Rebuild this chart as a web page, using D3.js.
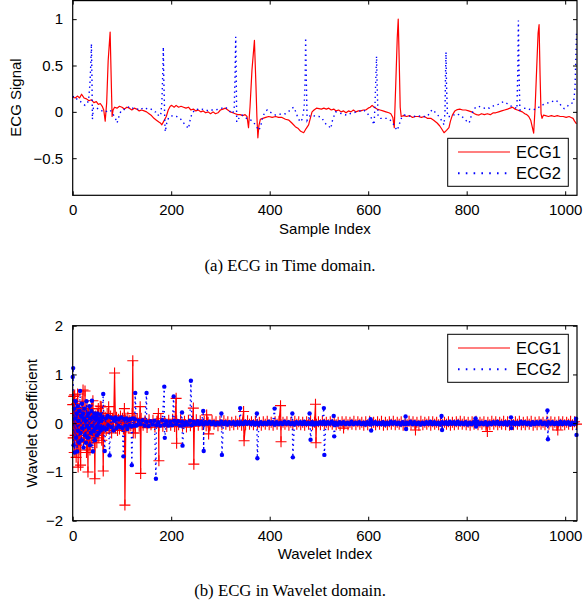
<!DOCTYPE html>
<html><head><meta charset="utf-8">
<script src="https://cdn.jsdelivr.net/npm/d3@7"></script>
<style>body{margin:0;background:#fff}</style>
</head><body>
<svg id="c" width="584" height="606"></svg>
<script>
// ---------- DATA ----------
const seriesNames = ["ECG1", "ECG2"];
const xTicks = [0, 200, 400, 600, 800, 1000];
const yTicksTime = [-0.5, 0, 0.5, 1];
const yTicksWavelet = [-2, -1, 0, 1, 2];

// (a) time domain: [sample index, value]
const ecg1Time = [
[0,0.16],[5,0.15],[10,0.17],[14,0.15],[18,0.19],[23,0.15],[28,0.14],[33,0.12],[38,0.13],[43,0.10],[48,0.11],[52,0.08],[56,0.09],[60,0.06],[63,0.02],[66,-0.10],[69,0.10],[72,0.55],[76,0.86],[78,0.40],[80,-0.05],[82,0.02],[85,0.05],[90,0.04],[95,0.06],[100,0.05],[105,0.03],[110,0.05],[115,0.04],[120,0.02],[125,0.04],[130,0.03],[135,0.01],[140,0.02],[145,0.01],[150,0.00],[155,-0.02],[160,-0.04],[165,-0.07],[170,-0.09],[175,-0.11],[178,-0.12],[181,-0.14],[185,-0.10],[190,-0.05],[194,0.02],[198,0.06],[201,0.07],[206,0.05],[210,0.07],[215,0.05],[220,0.06],[225,0.05],[230,0.04],[235,0.05],[240,0.02],[245,0.03],[250,0.01],[255,0.02],[260,0.00],[265,0.01],[270,-0.01],[275,0.00],[280,-0.02],[285,0.00],[290,-0.02],[295,-0.01],[300,0.02],[305,0.03],[310,0.04],[315,0.02],[320,0.00],[325,-0.01],[330,-0.02],[335,-0.03],[340,-0.03],[345,-0.04],[350,-0.03],[354,-0.05],[357,-0.17],[360,0.05],[364,0.45],[369,0.77],[372,0.30],[374,-0.05],[376,-0.28],[378,-0.15],[381,-0.08],[386,-0.07],[392,-0.06],[398,-0.05],[405,-0.06],[412,-0.05],[418,-0.06],[425,-0.06],[432,-0.08],[439,-0.09],[445,-0.12],[452,-0.16],[458,-0.18],[463,-0.21],[469,-0.225],[474,-0.18],[479,-0.14],[483,-0.06],[486,0.00],[490,0.02],[495,0.04],[500,0.035],[505,0.03],[510,0.04],[515,0.03],[520,0.04],[525,0.02],[530,0.03],[535,0.01],[540,0.02],[545,0.00],[550,0.01],[555,-0.01],[560,0.01],[565,0.00],[570,0.02],[575,0.00],[580,0.01],[585,0.01],[590,0.02],[595,0.02],[600,0.04],[604,0.05],[608,0.07],[612,0.05],[618,0.03],[624,0.02],[630,0.01],[636,0.00],[642,-0.01],[646,-0.02],[650,-0.06],[653,-0.17],[656,0.30],[659,0.80],[661,1.00],[663,0.55],[665,0.05],[667,-0.05],[672,-0.04],[678,-0.05],[684,-0.04],[690,-0.06],[696,-0.05],[702,-0.05],[708,-0.06],[714,-0.05],[720,-0.07],[727,-0.07],[733,-0.09],[740,-0.12],[745,-0.15],[750,-0.19],[754,-0.225],[759,-0.20],[764,-0.17],[767,-0.10],[771,-0.035],[776,0.01],[781,0.025],[786,0.03],[792,0.02],[798,0.02],[804,0.01],[810,0.00],[816,-0.02],[820,-0.03],[825,-0.035],[830,-0.02],[836,-0.03],[842,-0.02],[848,-0.03],[854,-0.01],[859,-0.01],[865,0.00],[871,0.01],[877,0.02],[883,0.03],[888,0.04],[893,0.05],[898,0.03],[903,0.02],[908,0.01],[913,0.00],[918,-0.02],[922,-0.03],[926,-0.05],[930,-0.09],[933,-0.16],[936,-0.23],[939,0.05],[942,0.45],[945,0.85],[947,0.94],[949,0.40],[951,-0.02],[953,-0.07],[956,-0.035],[960,-0.04],[966,-0.05],[972,-0.04],[978,-0.05],[984,-0.04],[990,-0.05],[996,-0.05],[1002,-0.06],[1008,-0.05],[1012,-0.06],[1016,-0.07],[1019,-0.10],[1023,-0.13]
];
const ecg2Time = [
[0,0.16],[4,0.17],[8,0.14],[12,0.12],[16,0.11],[20,0.09],[25,0.07],[29,0.09],[32,0.12],[35,0.30],[37,0.55],[38,0.735],[39,0.40],[40,-0.08],[42,0.04],[47,0.05],[52,0.03],[57,0.02],[62,0.00],[66,0.00],[71,0.01],[76,0.02],[81,-0.02],[86,-0.06],[90,-0.12],[94,-0.05],[98,0.01],[103,0.02],[108,0.04],[113,0.05],[117,0.06],[122,0.04],[127,0.03],[132,0.03],[137,0.02],[142,0.04],[147,0.03],[152,0.04],[157,0.035],[162,0.02],[167,0.00],[171,0.00],[175,-0.05],[179,-0.02],[181,0.10],[183,0.45],[184,0.70],[185,0.35],[187,-0.10],[188,-0.215],[191,-0.12],[195,-0.06],[198,-0.05],[204,-0.04],[211,-0.05],[218,-0.07],[224,-0.11],[228,-0.14],[232,-0.16],[235,-0.18],[238,-0.10],[242,-0.02],[245,0.00],[250,0.03],[255,0.025],[262,0.03],[270,0.02],[277,0.01],[283,0.02],[290,0.02],[296,0.03],[303,0.04],[310,0.05],[315,0.03],[320,0.00],[323,-0.02],[326,0.00],[328,0.05],[330,0.50],[331,0.81],[332,0.40],[333,-0.11],[336,-0.08],[340,-0.05],[344,-0.035],[350,-0.06],[356,-0.08],[362,-0.09],[367,-0.11],[372,-0.15],[378,-0.20],[382,-0.15],[386,-0.05],[391,0.00],[395,0.02],[400,0.00],[406,-0.02],[412,-0.035],[418,-0.03],[425,-0.02],[432,-0.02],[438,0.00],[443,0.03],[449,0.05],[453,0.00],[457,-0.06],[462,-0.11],[466,-0.08],[470,0.05],[472,0.40],[473,0.80],[474,0.45],[476,-0.09],[479,-0.06],[483,-0.035],[488,-0.04],[494,-0.05],[500,-0.05],[505,-0.06],[510,-0.10],[514,-0.13],[518,-0.14],[524,-0.18],[528,-0.08],[534,0.00],[540,-0.01],[546,-0.02],[552,-0.03],[557,-0.035],[563,-0.02],[570,-0.01],[577,0.00],[584,0.01],[591,0.02],[597,-0.01],[602,-0.04],[605,-0.05],[609,-0.10],[612,-0.14],[614,0.10],[616,0.45],[617,0.60],[618,0.30],[620,-0.05],[625,-0.07],[632,-0.07],[639,-0.07],[645,-0.09],[650,-0.12],[655,-0.17],[659,-0.20],[664,-0.12],[668,-0.06],[673,-0.035],[680,-0.04],[687,-0.05],[693,-0.05],[700,-0.04],[707,-0.05],[714,-0.05],[720,-0.05],[725,-0.01],[730,0.025],[735,0.00],[740,-0.025],[745,-0.06],[750,-0.10],[754,-0.14],[756,0.00],[757,0.40],[758,0.645],[759,0.30],[761,-0.05],[766,-0.05],[772,-0.04],[778,-0.02],[784,-0.03],[790,-0.05],[795,-0.07],[800,-0.10],[805,-0.12],[809,-0.05],[813,0.01],[818,0.05],[824,0.06],[830,0.05],[836,0.04],[841,0.05],[846,0.04],[852,0.06],[858,0.07],[864,0.08],[870,0.10],[876,0.11],[882,0.09],[887,0.07],[893,0.055],[898,0.05],[902,0.03],[904,0.50],[905,0.985],[906,0.50],[908,0.02],[913,0.035],[920,0.04],[926,0.03],[932,0.02],[937,0.025],[943,0.04],[950,0.06],[956,0.08],[961,0.09],[967,0.10],[973,0.11],[981,0.125],[987,0.10],[993,0.06],[998,0.035],[1003,0.05],[1008,0.08],[1012,0.09],[1017,0.10],[1020,0.25],[1023,0.86]
];

// (b) wavelet domain: large coefficients as [index, value]
const ecg1WaveletPeaks = [
[0,0.38],[1,-0.30],[2,0.55],[3,-0.60],[4,0.58],[5,-0.25],[6,0.20],[7,-0.70],[8,0.40],[9,-0.45],[10,0.60],[11,-0.90],[12,0.25],[13,-0.35],[14,0.30],[15,-0.55],[16,-0.86],[17,0.15],[18,-0.20],[19,0.45],[20,-0.10],[21,0.68],[22,-0.40],[23,0.20],[24,-0.30],[25,0.66],[26,-0.15],[27,0.10],[28,-0.60],[29,0.30],[30,-0.25],[31,-1.00],[32,0.25],[33,-0.35],[34,0.05],[35,-0.55],[36,0.20],[37,-0.15],[38,0.30],[39,-0.40],[40,0.10],[41,0.46],[42,-0.30],[43,0.12],[44,-0.20],[45,-1.14],[46,0.15],[47,-0.25],[48,0.05],[49,-0.40],[50,0.20],[51,-0.10],[52,0.30],[53,-0.30],[54,0.10],[55,-0.15],[56,0.35],[57,-0.05],[58,0.34],[59,-0.35],[60,0.10],[61,-0.20],[62,-0.98],[63,0.15],[64,-0.10],[66,0.12],[68,-0.15],[70,0.20],[72,-0.10],[73,0.34],[75,-0.12],[77,0.15],[79,-0.20],[81,0.10],[83,-0.08],[85,1.03],[87,-0.10],[89,0.12],[91,-0.15],[93,0.08],[95,-0.12],[97,0.15],[99,-0.06],[101,0.10],[103,-0.12],[105,0.30],[106,-1.68],[108,0.10],[110,-0.08],[112,0.12],[114,-0.10],[116,0.06],[118,-0.05],[121,0.20],[122,1.28],[123,-0.20],[125,0.08],[127,-0.20],[128,0.06],
[137,0.34],[138,-1.03],[174,0.20],[175,-0.77],[210,0.51],[211,-0.41],[245,0.31],[246,-0.84],[272,0.17],[276,-0.22],[347,0.24],[348,-0.36],[422,0.36],[423,-0.38],[493,0.39],[494,-0.40],[550,-0.10],[696,-0.14],[842,-0.17],[985,-0.14]
];
// small coefficients from index 131, every 4th index
const ecg1WaveletBandStart = 131;
const ecg1WaveletBand = [
0.08,-0.06,0.10,-0.04,0.05,-0.09,0.07,-0.03,0.06,-0.08,0.04,-0.05,0.09,-0.06,0.03,-0.07,
0.06,-0.04,0.08,-0.07,0.05,-0.03,0.07,-0.06,0.04,-0.08,0.06,-0.05,0.03,-0.06,0.07,-0.04,
0.05,-0.03,0.04,-0.05,0.02,-0.04,0.05,-0.02,0.03,-0.05,0.04,-0.03,0.05,-0.02,0.03,-0.04,
0.02,-0.03,0.04,-0.02,0.03,-0.04,0.02,-0.03,0.05,-0.02,0.03,-0.03,0.04,-0.02,0.02,-0.04,
0.03,-0.02,0.04,-0.03,0.02,-0.04,0.03,-0.02,0.04,-0.03,0.02,-0.02,0.03,-0.04,0.02,-0.03,
0.04,-0.02,0.03,-0.03,0.02,-0.04,0.03,-0.02,0.05,-0.03,0.02,-0.02,0.03,-0.03,0.04,-0.02,
0.02,-0.03,0.03,-0.02,0.04,-0.03,0.02,-0.04,0.03,-0.02,0.03,-0.03,0.02,-0.02,0.04,-0.03,
0.03,-0.02,0.02,-0.04,0.03,-0.03,0.04,-0.02,0.02,-0.03,0.03,-0.02,0.04,-0.04,0.02,-0.03,
0.03,-0.02,0.04,-0.03,0.02,-0.02,0.03,-0.04,0.02,-0.03,0.04,-0.02,0.03,-0.03,0.02,-0.04,
0.04,-0.03,0.02,-0.02,0.03,-0.04,0.03,-0.02,0.02,-0.03,0.04,-0.03,0.02,-0.02,0.03,-0.04,
0.02,-0.03,0.03,-0.02,0.04,-0.02,0.03,-0.03,0.02,-0.04,0.03,-0.02,0.04,-0.03,0.02,-0.02,
0.03,-0.04,0.02,-0.03,0.04,-0.02,0.03,-0.03,0.02,-0.02,0.04,-0.03,0.03,-0.04,0.02,-0.03,
0.03,-0.02,0.04,-0.03,0.02,-0.03,0.03,-0.02,0.04,-0.04,0.02,-0.03,0.03,-0.02,0.02,-0.03,
0.04,-0.02,0.03,-0.03,0.02,-0.04,0.03,-0.02,0.03,-0.03,0.02,-0.02,0.04,-0.03,0.03,-0.02
];
const ecg2WaveletPeaks = [
[0,0.95],[1,1.13],[2,-0.45],[3,0.30],[4,-0.60],[5,0.10],[6,0.45],[7,-0.30],[8,0.20],[9,-0.58],[10,0.35],[11,-0.15],[12,0.05],[13,-0.40],[14,0.25],[15,0.66],[16,-0.20],[17,0.15],[18,-0.35],[19,0.40],[20,-0.10],[21,0.20],[22,-0.50],[23,0.10],[24,0.30],[25,-0.25],[26,0.05],[27,-0.40],[28,0.45],[29,-0.05],[30,0.15],[31,-0.30],[32,0.20],[33,-0.10],[34,0.35],[35,-0.45],[36,0.10],[37,-0.20],[38,0.25],[39,0.46],[40,-0.05],[41,-0.58],[42,0.12],[43,-0.15],[44,0.20],[45,-0.35],[46,0.08],[47,-0.10],[48,0.15],[49,-0.25],[50,0.20],[51,-0.05],[52,0.10],[53,-0.20],[54,0.05],[55,-0.10],[56,0.18],[57,-0.15],[58,0.05],[59,-0.08],[60,0.12],[62,0.60],[63,-0.10],[65,-0.57],[67,0.10],[69,-0.12],[71,0.15],[73,-0.05],[75,-0.66],[77,0.12],[79,-0.08],[81,0.10],[83,-0.15],[85,0.05],[87,0.12],[89,-0.10],[91,0.08],[93,-0.05],[95,0.10],[97,-0.08],[99,0.12],[101,-0.10],[103,-0.68],[105,0.08],[107,-0.05],[109,0.10],[111,-0.12],[113,0.06],[115,-0.04],[117,0.08],[119,-0.06],[120,-0.86],[122,0.10],[124,-0.05],[126,0.08],[127,0.62],[129,-0.05],
[150,0.62],[169,-1.14],[186,0.75],[187,-0.30],[205,0.55],[222,0.22],[223,-0.46],[240,0.87],[265,0.25],[266,-0.57],[302,0.20],[303,-0.65],[340,0.31],[374,0.20],[375,-0.72],[410,0.30],[446,0.20],[447,-0.70],[481,0.20],[483,-0.34],[510,0.31],[511,-0.65],[530,0.15],[531,-0.27],[605,0.08],[606,-0.15],[676,0.14],[677,-0.12],[749,0.15],[750,-0.14],[818,0.10],[819,-0.07],[890,0.12],[891,-0.10],[964,0.26],[965,-0.33],[1022,0.09],[1023,-0.24]
];
const ecg2WaveletBandStart = 130;
const ecg2WaveletBand = [
-0.04,0.05,-0.02,0.06,-0.05,0.03,-0.06,0.04,-0.03,0.05,-0.04,0.02,-0.05,0.06,-0.03,0.04,
-0.05,0.03,-0.04,0.05,-0.02,0.04,-0.05,0.03,-0.04,0.02,-0.03,0.05,-0.04,0.03,-0.02,0.04,
-0.02,0.03,-0.03,0.02,-0.01,0.03,-0.02,0.02,-0.03,0.01,-0.02,0.03,-0.02,0.02,-0.03,0.02,
-0.01,0.02,-0.03,0.02,-0.02,0.01,-0.02,0.03,-0.01,0.02,-0.02,0.02,-0.03,0.01,-0.02,0.02,
-0.02,0.01,-0.02,0.03,-0.01,0.02,-0.03,0.02,-0.02,0.01,-0.02,0.03,-0.01,0.02,-0.02,0.01,
-0.03,0.02,-0.01,0.02,-0.02,0.03,-0.02,0.01,-0.02,0.02,-0.03,0.01,-0.02,0.02,-0.01,0.03,
-0.02,0.02,-0.01,0.03,-0.02,0.01,-0.03,0.02,-0.01,0.02,-0.02,0.01,-0.02,0.03,-0.02,0.01,
-0.01,0.02,-0.02,0.01,-0.03,0.02,-0.02,0.03,-0.01,0.02,-0.02,0.01,-0.02,0.02,-0.03,0.01,
-0.02,0.03,-0.01,0.02,-0.02,0.01,-0.03,0.02,-0.02,0.01,-0.01,0.03,-0.02,0.02,-0.02,0.01,
-0.03,0.01,-0.02,0.02,-0.01,0.03,-0.02,0.02,-0.02,0.01,-0.03,0.02,-0.01,0.02,-0.02,0.03,
-0.01,0.02,-0.02,0.03,-0.02,0.01,-0.02,0.02,-0.03,0.01,-0.02,0.02,-0.01,0.03,-0.02,0.01,
-0.02,0.02,-0.03,0.01,-0.02,0.02,-0.01,0.03,-0.02,0.01,-0.02,0.02,-0.03,0.02,-0.01,0.02,
-0.02,0.01,-0.02,0.03,-0.01,0.02,-0.02,0.01,-0.03,0.02,-0.02,0.02,-0.01,0.03,-0.02,0.01,
-0.03,0.02,-0.01,0.02,-0.02,0.01,-0.02,0.03,-0.02,0.02,-0.01,0.02,-0.03,0.01,-0.02,0.02
];

// ---------- DRAW ----------
const RED = "#ff0000", BLUE = "#0000ff";
const SANS = "'Liberation Sans', Arial, Helvetica, sans-serif";
const SERIF = "'Liberation Serif', 'Times New Roman', serif";
const svg = d3.select("#c");
const L = 72.7, R = 577;
const x = d3.scaleLinear().domain([0, 1024]).range([L, R]);
const fmt = d => (d < 0 ? "\u2212" : "") + Math.abs(d);

function merge(peaks, start, band) {
  const pts = peaks.map(p => ({i: p[0], v: p[1]}));
  band.forEach((v, k) => pts.push({i: start + 4 * k, v}));
  return pts.sort((a, b) => a.i - b.i);
}

function frame(y, top, bottom, yTicks) {
  const g = svg.append("g");
  g.append("g").attr("transform", `translate(0,${bottom})`)
    .call(d3.axisBottom(x).tickValues(xTicks).tickSize(-4).tickPadding(9.5).tickFormat(fmt));
  g.append("g").attr("transform", `translate(0,${top})`)
    .call(d3.axisTop(x).tickValues(xTicks).tickSize(-4).tickFormat(""));
  g.append("g").attr("transform", `translate(${L},0)`)
    .call(d3.axisLeft(y).tickValues(yTicks).tickSize(-4).tickPadding(9.5).tickFormat(fmt));
  g.append("g").attr("transform", `translate(${R},0)`)
    .call(d3.axisRight(y).tickValues(yTicks).tickSize(-4).tickFormat(""));
  g.selectAll(".domain").remove();
  g.selectAll(".tick line").attr("stroke", "#000").attr("stroke-width", 1);
  g.selectAll("text").attr("font-family", SANS).attr("font-size", 15).attr("fill", "#000");
  g.append("rect").attr("x", L).attr("y", top).attr("width", R - L).attr("height", bottom - top)
    .attr("fill", "none").attr("stroke", "#000").attr("stroke-width", 1.2);
  return g;
}

function legend(top) {
  const g = svg.append("g");
  g.append("rect").attr("x", 447.7).attr("y", top).attr("width", 120.6).attr("height", 48)
    .attr("fill", "#fff").attr("stroke", "#000").attr("stroke-width", 1);
  const rows = [{c: RED, dash: null, w: 1.2}, {c: BLUE, dash: "1.6,6.2", w: 2}];
  seriesNames.forEach((n, k) => {
    const yy = top + 13.7 + k * 21.3;
    g.append("line").attr("x1", 458).attr("x2", 510).attr("y1", yy).attr("y2", yy)
      .attr("stroke", rows[k].c).attr("stroke-width", rows[k].w)
      .attr("stroke-dasharray", rows[k].dash);
    g.append("text").attr("x", 516).attr("y", yy + 5.9).text(n)
      .attr("font-family", SANS).attr("font-size", 16.5).attr("fill", "#000");
  });
}

// ---- (a) ----
const yA = d3.scaleLinear().domain([-0.9, 1.2]).range([195.3, 0.6]);
const lineA = d3.line().x(d => x(d[0])).y(d => yA(d[1]));
svg.append("path").datum(ecg1Time).attr("d", lineA)
  .attr("fill", "none").attr("stroke", RED).attr("stroke-width", 1.2).attr("stroke-linejoin", "round");
svg.append("path").datum(ecg2Time).attr("d", lineA)
  .attr("fill", "none").attr("stroke", BLUE).attr("stroke-width", 1.4).attr("stroke-dasharray", "1.4,3.6");
frame(yA, 0.6, 195.3, yTicksTime);
legend(138.3);
svg.append("text").attr("x", 324.9).attr("y", 234).attr("text-anchor", "middle")
  .attr("font-family", SANS).attr("font-size", 15).text("Sample Index");
svg.append("text").attr("transform", "translate(21.3,97.5) rotate(-90)").attr("text-anchor", "middle")
  .attr("font-family", SANS).attr("font-size", 15).text("ECG Signal");
svg.append("text").attr("x", 290).attr("y", 271).attr("text-anchor", "middle")
  .attr("font-family", SERIF).attr("font-size", 16.8).text("(a) ECG in Time domain.");

// ---- (b) ----
const yB = d3.scaleLinear().domain([-2, 2]).range([520.7, 325.7]);
const w1 = merge(ecg1WaveletPeaks, ecg1WaveletBandStart, ecg1WaveletBand);
const w2 = merge(ecg2WaveletPeaks, ecg2WaveletBandStart, ecg2WaveletBand);
const lineB = d3.line().x(d => x(d.i)).y(d => yB(d.v));
svg.append("path").datum(w1).attr("d", lineB)
  .attr("fill", "none").attr("stroke", RED).attr("stroke-width", 1.2);
svg.append("g").selectAll("path").data(w1).join("path")
  .attr("transform", d => `translate(${x(d.i)},${yB(d.v)})`)
  .attr("d", "M-5.5,0H5.5M0,-5.5V5.5").attr("stroke", RED).attr("stroke-width", 1.1).attr("fill", "none");
svg.append("path").datum(w2).attr("d", lineB)
  .attr("fill", "none").attr("stroke", BLUE).attr("stroke-width", 1.4).attr("stroke-dasharray", "1.4,3.6");
svg.append("g").selectAll("circle").data(w2).join("circle")
  .attr("cx", d => x(d.i)).attr("cy", d => yB(d.v)).attr("r", 2.2).attr("fill", BLUE);
frame(yB, 325.7, 520.7, yTicksWavelet);
legend(334.3);
svg.append("text").attr("x", 324.9).attr("y", 559).attr("text-anchor", "middle")
  .attr("font-family", SANS).attr("font-size", 15).text("Wavelet Index");
svg.append("text").attr("transform", "translate(36.5,423.2) rotate(-90)").attr("text-anchor", "middle")
  .attr("font-family", SANS).attr("font-size", 15).text("Wavelet Coefficient");
svg.append("text").attr("x", 290).attr("y", 596).attr("text-anchor", "middle")
  .attr("font-family", SERIF).attr("font-size", 16.8).text("(b) ECG in Wavelet domain.");
</script>
</body></html>
